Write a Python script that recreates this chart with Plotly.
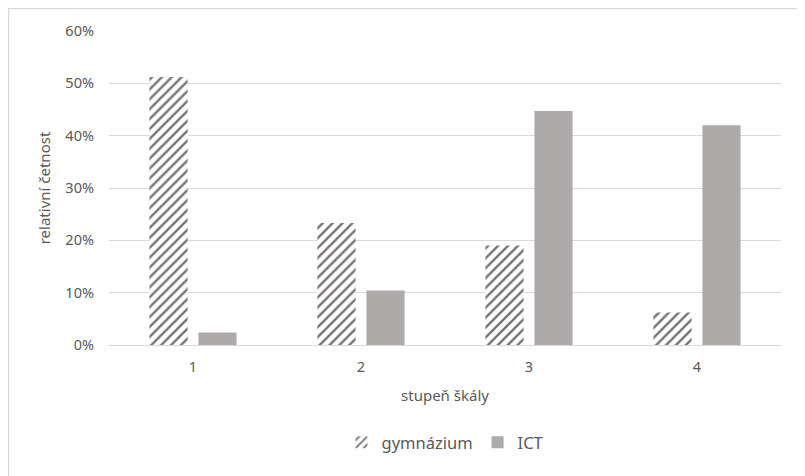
import plotly.graph_objects as go

categories = ["1", "2", "3", "4"]
gymnazium = [0.512, 0.233, 0.190, 0.062]
ict = [0.024, 0.104, 0.447, 0.420]
y_ticks = [0, 0.1, 0.2, 0.3, 0.4, 0.5, 0.6]
y_tick_labels = ["0%", "10%", "20%", "30%", "40%", "50%", "60%"]

FONT = "Noto Sans, Open Sans, sans-serif"
TXT = "#595959"

L, R, T, B = 101, 32, 23, 139
W, H = 805, 476
PW, PH = W - L - R, H - T - B

fig = go.Figure()
fig.add_trace(go.Bar(
    x=categories, y=gymnazium, name="gymnázium",
    marker=dict(color="white",
                pattern=dict(shape="/", fgcolor="#767171", bgcolor="white",
                             size=7, solidity=0.33, fillmode="replace"),
                line=dict(width=0)),
))
fig.add_trace(go.Bar(
    x=categories, y=ict, name="ICT",
    marker=dict(color="#AEAAAA", line=dict(width=0)),
))

fig.update_layout(
    width=W, height=H,
    paper_bgcolor="white", plot_bgcolor="white",
    margin=dict(l=L, r=R, t=T, b=B),
    barmode="group", bargap=0.417, bargroupgap=0.22,
    font=dict(family=FONT, size=14, color=TXT),
    showlegend=True,
    legend=dict(orientation="h", x=0.5, xanchor="center", y=-0.255, yanchor="top",
                font=dict(family=FONT, size=16.5, color=TXT), traceorder="normal",
                itemwidth=30),
    xaxis=dict(
        title=dict(text="stupeň škály", font=dict(family=FONT, size=15, color=TXT), standoff=15),
        showline=True, linecolor="#D9D9D9", linewidth=1,
        ticks="", ticklabelstandoff=9, tickfont=dict(family=FONT, size=14.5, color=TXT),
    ),
    yaxis=dict(
        title=dict(text="relativní četnost", font=dict(family=FONT, size=15, color=TXT), standoff=11),
        range=[0, 0.6], tickvals=y_ticks, ticktext=y_tick_labels,
        showgrid=True, gridcolor="#D9D9D9", gridwidth=1,
        zeroline=False, ticks="", ticklabelstandoff=14,
        tickfont=dict(family=FONT, size=14.5, color=TXT),
    ),
    shapes=[dict(type="rect", xref="paper", yref="paper",
                 x0=-(L - 0.5) / PW, x1=1 + (R + 40) / PW,
                 y0=-(B + 40) / PH, y1=1 + (T - 0.5) / PH,
                 line=dict(color="#D9D9D9", width=1.5), fillcolor="rgba(0,0,0,0)",
                 layer="below")],
)

fig.write_html("out.html")
